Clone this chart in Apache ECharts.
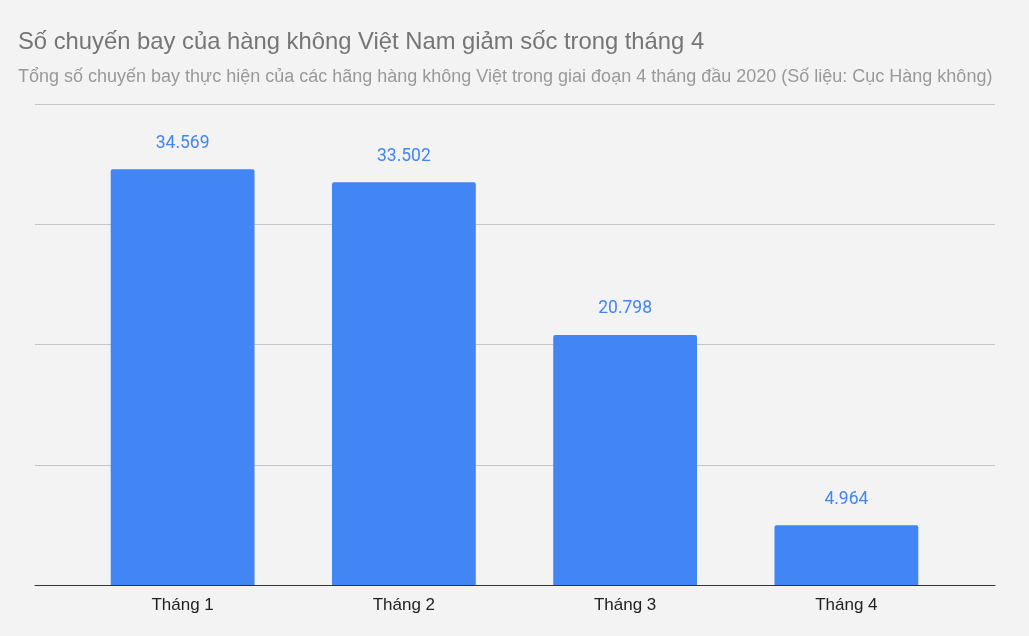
<!DOCTYPE html>
<html><head><meta charset="utf-8">
<script src="https://cdn.jsdelivr.net/npm/echarts@6/dist/echarts.min.js"></script>
<style>html,body{margin:0;padding:0;background:#f3f3f3}#c{width:1029px;height:636px}</style>
</head><body><div id="c"></div>
<script>
const categories = ['Tháng 1', 'Tháng 2', 'Tháng 3', 'Tháng 4'];
const flights = [34569, 33502, 20798, 4964];
const yTicks = [0, 10000, 20000, 30000, 40000];

const chart = echarts.init(document.getElementById('c'));
const fmt = v => String(v).replace(/\B(?=(\d{3})+(?!\d))/g, '.');
chart.setOption({
  backgroundColor: '#f3f3f3',
  animation: false,
  title: [{
    text: 'Số chuyến bay của hàng không Việt Nam giảm sốc trong tháng 4',
    left: 18, top: 30, padding: 0,
    textStyle: {fontFamily: 'Liberation Sans', fontSize: 23.8, fontWeight: 'normal', color: '#757575'}
  }, {
    text: 'Tổng số chuyến bay thực hiện của các hãng hàng không Việt trong giai đoạn 4 tháng đầu 2020 (Số liệu: Cục Hàng không)',
    left: 18, top: 68, padding: 0,
    textStyle: {fontFamily: 'Liberation Sans', fontSize: 18, fontWeight: 'normal', color: '#999999'}
  }],
  grid: [
    {left: 35, right: 34, top: 104, bottom: 51},
    {left: 72, right: 72, top: 104, bottom: 51}
  ],
  xAxis: [
    {gridIndex: 0, type: 'category', data: categories, axisLabel: {show: false}, axisTick: {show: false},
     axisLine: {show: true, lineStyle: {color: '#333333', width: 1}}},
    {gridIndex: 1, type: 'category', data: categories, axisTick: {show: false},
     axisLine: {show: false},
     axisLabel: {fontFamily: 'Liberation Sans', fontSize: 17, color: '#222222', margin: 12}}
  ],
  yAxis: [
    {gridIndex: 0, type: 'value', min: yTicks[0], max: yTicks[yTicks.length - 1], interval: yTicks[1] - yTicks[0],
     axisLabel: {show: false}, axisLine: {show: false}, axisTick: {show: false},
     splitLine: {lineStyle: {color: '#c6c6c6', width: 1}}},
    {gridIndex: 1, type: 'value', min: yTicks[0], max: yTicks[yTicks.length - 1], interval: yTicks[1] - yTicks[0],
     show: false, splitLine: {show: false}}
  ],
  series: [{
    type: 'bar', xAxisIndex: 1, yAxisIndex: 1,
    data: flights, barWidth: '65%',
    itemStyle: {color: '#4285f4', borderRadius: [2, 2, 0, 0]},
    label: {show: true, position: 'top', distance: 17, formatter: p => fmt(p.value),
      fontFamily: 'Roboto', fontSize: 17.5, color: '#4285f4'}
  }]
});
</script></body></html>
